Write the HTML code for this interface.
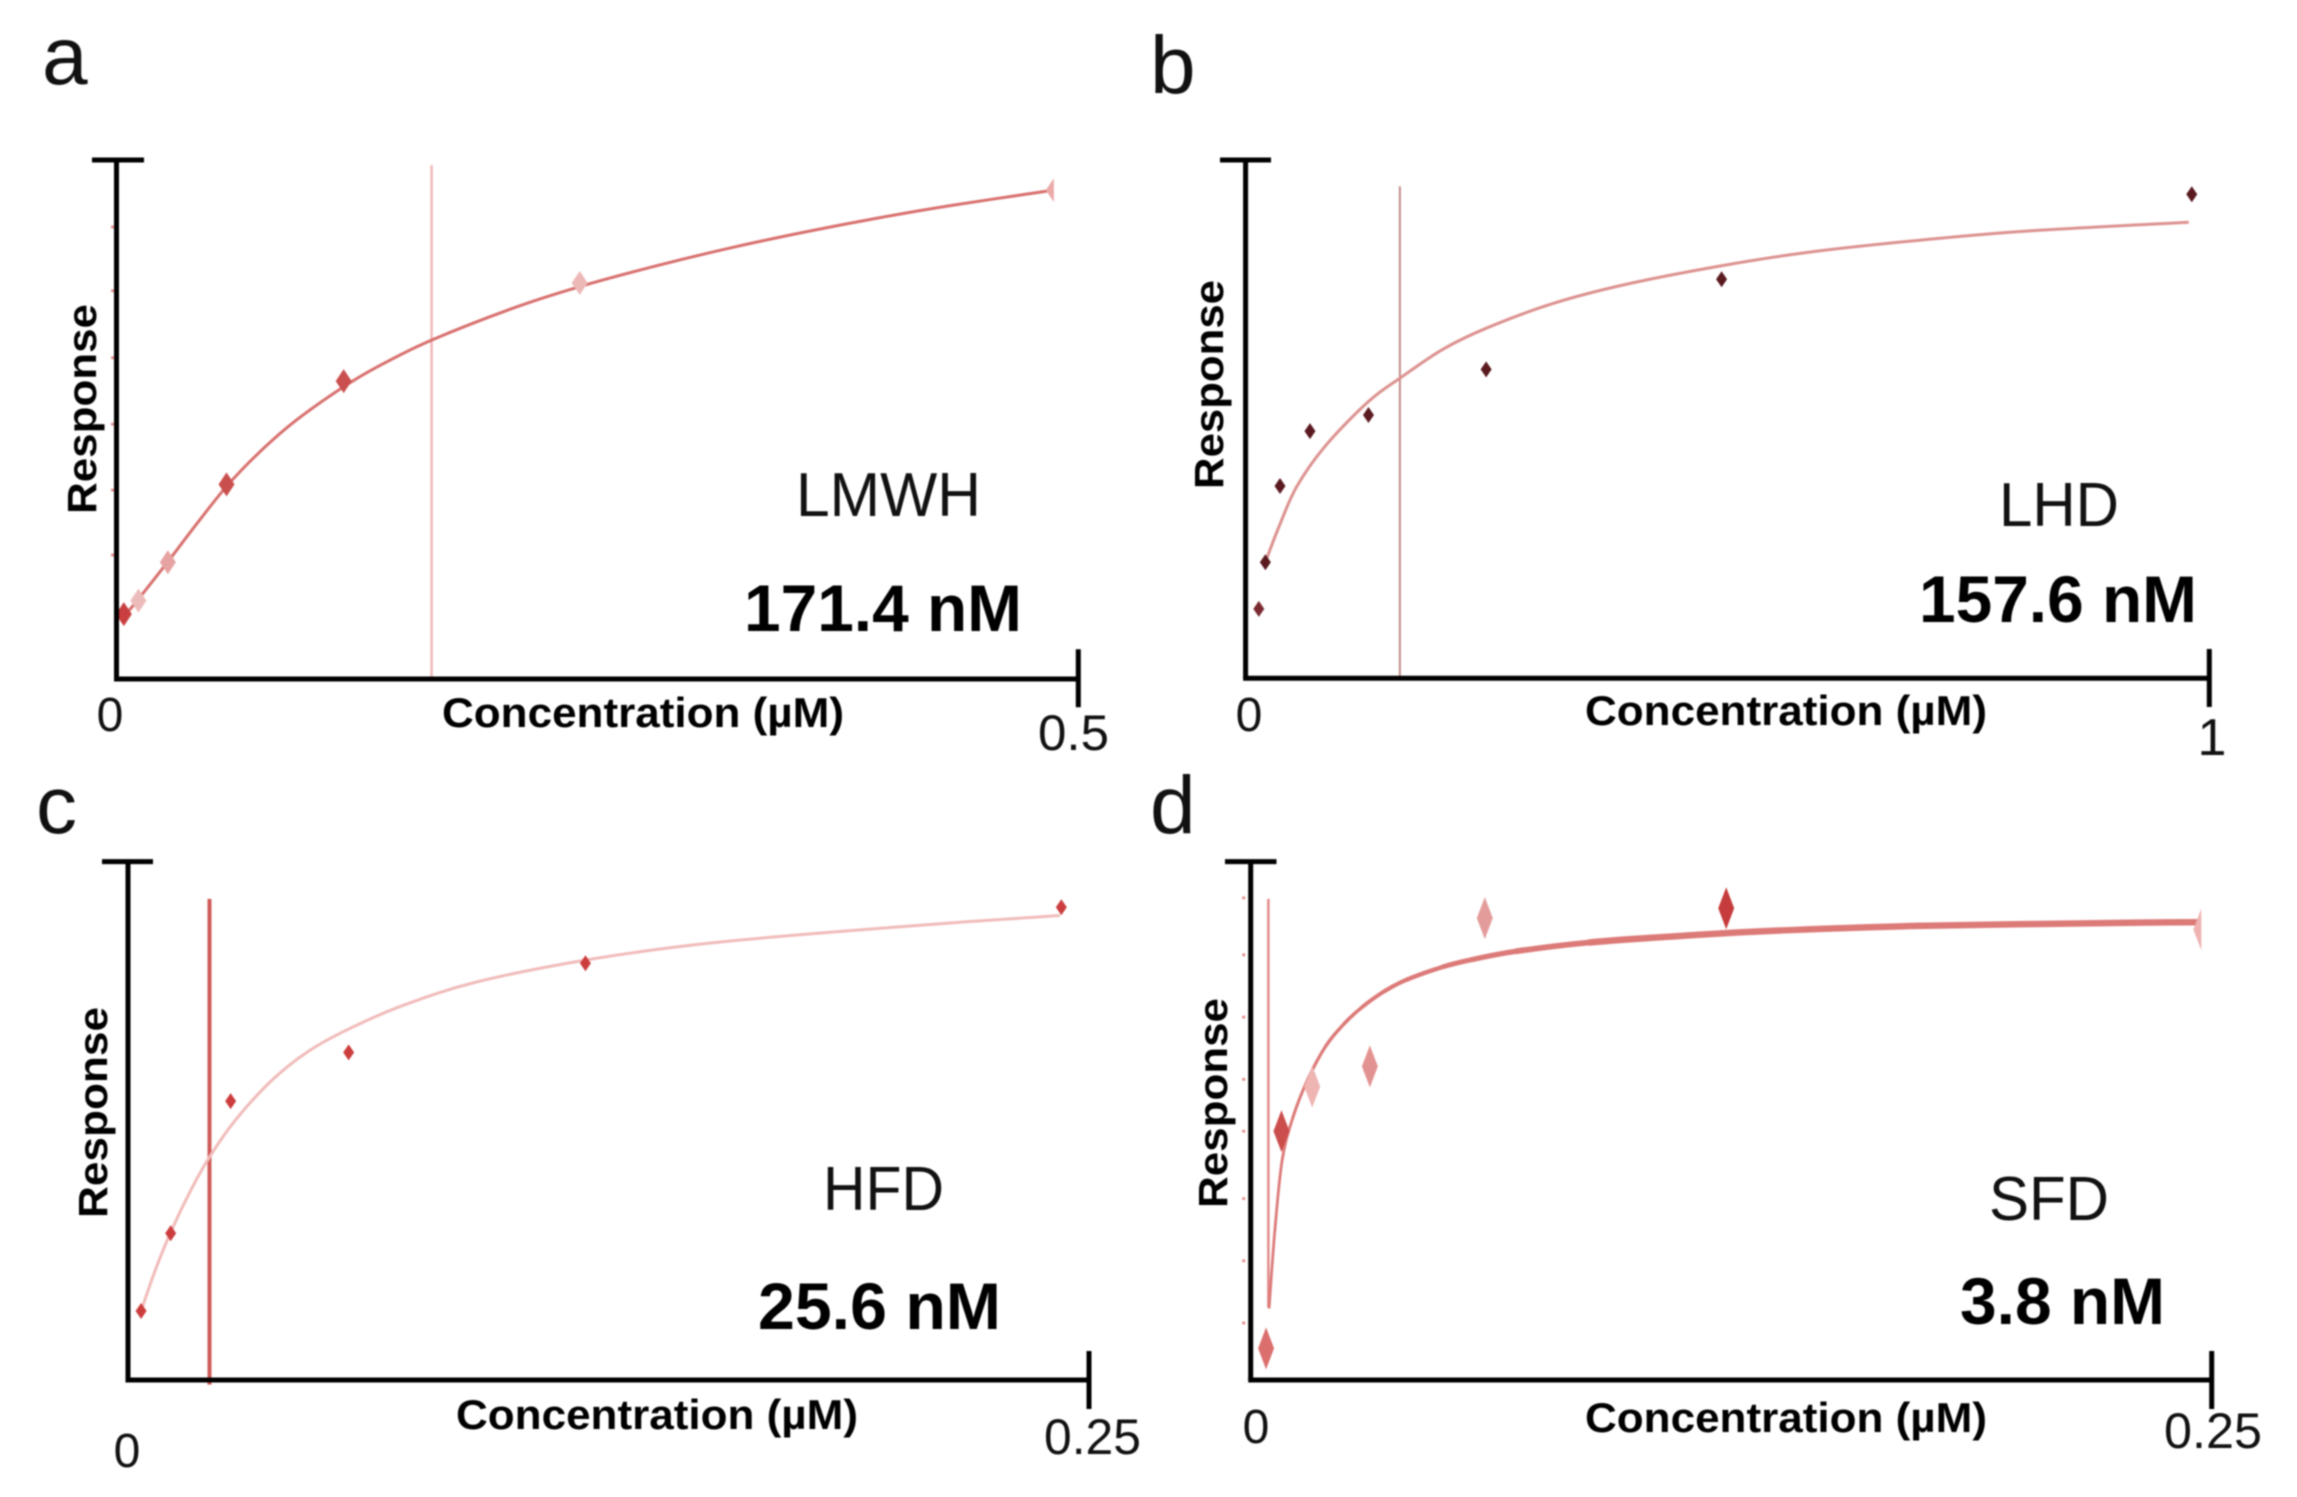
<!DOCTYPE html>
<html lang="en">
<head>
<meta charset="utf-8">
<title>Binding curves</title>
<style>
html,body{margin:0;padding:0;background:#fff;width:2297px;height:1497px;overflow:hidden}
svg{display:block;filter:blur(0.7px)}
text{font-family:"Liberation Sans",Arial,sans-serif;fill:#111}
.bold{font-weight:700;fill:#000}
</style>
</head>
<body>
<svg id="chart" xmlns="http://www.w3.org/2000/svg" width="2297" height="1497" viewBox="0 0 2297 1497">
  <rect width="2297" height="1497" fill="#fff"/>

  <text x="42" y="84" font-size="82">a</text>
  <text x="1150" y="93" font-size="82">b</text>
  <text x="36" y="833" font-size="82">c</text>
  <text x="1150" y="833" font-size="82">d</text>

  <text class="bold" x="442" y="727" font-size="42" textLength="402" lengthAdjust="spacingAndGlyphs">Concentration (µM)</text>
  <text class="bold" x="1585" y="725" font-size="42" textLength="402" lengthAdjust="spacingAndGlyphs">Concentration (µM)</text>
  <text class="bold" x="456" y="1429" font-size="42" textLength="402" lengthAdjust="spacingAndGlyphs">Concentration (µM)</text>
  <text class="bold" x="1585" y="1432" font-size="42" textLength="402" lengthAdjust="spacingAndGlyphs">Concentration (µM)</text>

  <text class="bold" transform="translate(96,514) rotate(-90)" font-size="41" textLength="210" lengthAdjust="spacingAndGlyphs">Response</text>
  <text class="bold" transform="translate(1223,489) rotate(-90)" font-size="41" textLength="209" lengthAdjust="spacingAndGlyphs">Response</text>
  <text class="bold" transform="translate(107,1218) rotate(-90)" font-size="41" textLength="211" lengthAdjust="spacingAndGlyphs">Response</text>
  <text class="bold" transform="translate(1227,1208) rotate(-90)" font-size="41" textLength="210" lengthAdjust="spacingAndGlyphs">Response</text>

  <text x="110" y="731" font-size="48" text-anchor="middle">0</text>
  <text x="1038" y="750" font-size="50" textLength="71" lengthAdjust="spacingAndGlyphs">0.5</text>
  <text x="1249" y="731" font-size="48" text-anchor="middle">0</text>
  <text x="2212" y="755" font-size="52" text-anchor="middle">1</text>
  <text x="127" y="1467" font-size="48" text-anchor="middle">0</text>
  <text x="1044" y="1454" font-size="50" textLength="97" lengthAdjust="spacingAndGlyphs">0.25</text>
  <text x="1256" y="1443" font-size="48" text-anchor="middle">0</text>
  <text x="2164" y="1448" font-size="50" textLength="98" lengthAdjust="spacingAndGlyphs">0.25</text>

  <text x="796" y="516" font-size="62" textLength="185" lengthAdjust="spacingAndGlyphs">LMWH</text>
  <text class="bold" x="744" y="631" font-size="66" textLength="278" lengthAdjust="spacingAndGlyphs">171.4 nM</text>
  <text x="1999" y="526" font-size="62" textLength="120" lengthAdjust="spacingAndGlyphs">LHD</text>
  <text class="bold" x="1919" y="622" font-size="66" textLength="278" lengthAdjust="spacingAndGlyphs">157.6 nM</text>
  <text x="823" y="1210" font-size="62" textLength="121" lengthAdjust="spacingAndGlyphs">HFD</text>
  <text class="bold" x="758" y="1329" font-size="66" textLength="243" lengthAdjust="spacingAndGlyphs">25.6 nM</text>
  <text x="1989" y="1220" font-size="62" textLength="120" lengthAdjust="spacingAndGlyphs">SFD</text>
  <text class="bold" x="1960" y="1324" font-size="66" textLength="205" lengthAdjust="spacingAndGlyphs">3.8 nM</text>

  <g id="plots"></g>
</svg>

<script>
// Panel a (LMWH)
const concA = [0.0038, 0.0114, 0.0267, 0.0572, 0.1181, 0.2408, 0.4873];
const respA = [12.5, 15.1, 22.5, 37.5, 57.4, 76.3, 94.2];
const fitXA = [0.0038, 0.0114, 0.0267, 0.0419, 0.0572, 0.0732, 0.0922, 0.1181, 0.1379, 0.1638, 0.2065, 0.2408, 0.2827, 0.3208, 0.3589, 0.397, 0.4351, 0.4854];
const fitYA = [12.0, 15.4, 22.6, 30.0, 37.1, 43.3, 49.5, 56.3, 60.6, 65.3, 71.5, 75.6, 79.8, 83.2, 86.2, 88.9, 91.3, 94.1];
const kdA = [0.1638];
const kdSpanA = [0, 99];
const minorA = [23.9, 36.4, 49.1, 61.9, 74.8, 87.1];

// Panel b (LHD)
const concB = [0.0137, 0.0205, 0.0357, 0.0668, 0.1275, 0.2496, 0.4939, 0.9818];
const respB = [13.4, 22.4, 37.1, 47.7, 50.8, 59.6, 77.0, 93.4];
const fitXB = [0.0205, 0.0341, 0.0531, 0.0835, 0.1275, 0.1601, 0.2049, 0.2504, 0.3187, 0.3945, 0.4939, 0.5842, 0.698, 0.8118, 0.9787];
const fitYB = [22.4, 29.0, 37.0, 45.0, 53.4, 57.9, 63.5, 67.6, 72.3, 76.0, 79.6, 82.2, 84.5, 86.3, 88.0];
const kdB = [0.1601];
const kdSpanB = [0, 94.9];
const minorB = [];

// Panel c (HFD)
const concC = [0.0034, 0.0111, 0.0267, 0.0574, 0.119, 0.2428];
const respC = [13.3, 28.3, 53.8, 63.2, 80.4, 91.2];
const fitXC = [0.0034, 0.0069, 0.0111, 0.0164, 0.0212, 0.0278, 0.0374, 0.0469, 0.0574, 0.0717, 0.0908, 0.119, 0.148, 0.1766, 0.2147, 0.2424];
const fitYC = [13.3, 20.8, 28.5, 36.7, 43.0, 50.0, 57.8, 63.4, 67.7, 72.3, 76.8, 81.0, 84.0, 86.0, 88.2, 89.6];
const kdC = [0.0212];
const kdSpanC = [-0.9, 92.8];
const minorC = [];

// Panel d (SFD)
const concD = [0.004, 0.008, 0.016, 0.031, 0.0609, 0.1237, 0.2473];
const respD = [6.1, 48.0, 56.6, 60.5, 89.1, 91.0, 86.9];
const fitXD = [0.0048, 0.0063, 0.0082, 0.011, 0.0148, 0.0196, 0.0244, 0.0291, 0.0348, 0.0405, 0.05, 0.0576, 0.0691, 0.0881, 0.1166, 0.1376, 0.1737, 0.2289, 0.246];
const fitYD = [14.0, 29.0, 42.5, 50.7, 57.9, 64.5, 68.8, 72.0, 75.0, 77.2, 79.7, 81.1, 82.7, 84.4, 85.9, 86.7, 87.6, 88.2, 88.3];
const kdD = [0.0046];
const kdSpanD = [14, 92.8];
const minorD = [11, 23, 35, 48, 58, 70, 82, 93];

const panels = [
  {id:'a', xMax:0.5, left:116.5, right:1078.3, bottom:679, top:160, capL:92, capR:144, tickTop:649.3, tickBot:707.3,
   conc:concA, resp:respA, fitX:fitXA, fitY:fitYA, kd:kdA, kdSpan:kdSpanA, minor:minorA,
   hw:8, hh:12, clipLast:true, fitColor:'#d8716f', fitWidth:3, kdColor:'#f0b8b6', kdWidth:2.5, minorOffset:0,
   colors:['#c93f3f','#ecbcba','#e6a3a1','#c94f4d','#c9504e','#ecb9b7','#eba9a7']},
  {id:'b', xMax:1, left:1245.6, right:2209.3, bottom:678.3, top:160, capL:1220, capR:1271, tickTop:649, tickBot:707,
   conc:concB, resp:respB, fitX:fitXB, fitY:fitYB, kd:kdB, kdSpan:kdSpanB, minor:minorB,
   hw:5.5, hh:8, clipLast:false, fitColor:'#dc9290', fitWidth:3, kdColor:'#c08a88', kdWidth:2, minorOffset:0,
   colors:['#7a2a30','#5a1a20','#5a1a20','#5a1a20','#5a1a20','#5a1a20','#5a1a20','#5a1a20']},
  {id:'c', xMax:0.25, left:128, right:1089, bottom:1380, top:861.6, capL:102, capR:153, tickTop:1351, tickBot:1409,
   conc:concC, resp:respC, fitX:fitXC, fitY:fitYC, kd:kdC, kdSpan:kdSpanC, minor:minorC,
   hw:5.5, hh:8, clipLast:false, fitColor:'#f0bcba', fitWidth:3, kdColor:'#cf5a59', kdWidth:4, minorOffset:0,
   colors:['#cc3e3e','#cc3e3e','#cc3e3e','#cc3e3e','#cc3e3e','#cc3e3e']},
  {id:'d', xMax:0.25, left:1250.7, right:2211.7, bottom:1380, top:861.6, capL:1225, capR:1276.5, tickTop:1351, tickBot:1409,
   conc:concD, resp:respD, fitX:fitXD, fitY:fitYD, kd:kdD, kdSpan:kdSpanD, minor:minorD,
   hw:8, hh:21, clipLast:true, fitColor:'#dc7a78', fitWidth:0, kdColor:'#e08a88', kdWidth:2.5, minorOffset:-9,
   colors:['#da6f6e','#cb4d4c','#eeb5b3','#e29291','#e49c9b','#c63c3c','#efb3b1']}
];

const NS = 'http://www.w3.org/2000/svg';
const root = document.getElementById('plots');

function make(tag, attrs, parent) {
  const el = document.createElementNS(NS, tag);
  for (const k in attrs) el.setAttribute(k, attrs[k]);
  parent.appendChild(el);
  return el;
}

// smooth cubic segment between sample i and i+1 (Catmull-Rom)
function segment(pts, i) {
  const p0 = pts[Math.max(0, i - 1)], p1 = pts[i], p2 = pts[i + 1], p3 = pts[Math.min(pts.length - 1, i + 2)];
  const c1x = p1[0] + (p2[0] - p0[0]) / 6, c1y = p1[1] + (p2[1] - p0[1]) / 6;
  const c2x = p2[0] - (p3[0] - p1[0]) / 6, c2y = p2[1] - (p3[1] - p1[1]) / 6;
  return 'C' + c1x + ',' + c1y + ' ' + c2x + ',' + c2y + ' ' + p2[0] + ',' + p2[1];
}

panels.forEach(function (p) {
  const xScale = function (v) { return p.left + v / p.xMax * (p.right - p.left); };
  const yScale = function (v) { return p.bottom - v / 100 * (p.bottom - p.top); };

  const g = make('g', {}, root);
  
  

  p.minor.forEach(function (v) {
    const dot = make('circle', {cx: p.left - 4 + p.minorOffset / 3, cy: yScale(v), r: 1.6, fill: '#e58f8e'}, g);
    
    
  });

  const kdLine = make('line', {
    x1: xScale(p.kd[0]), x2: xScale(p.kd[0]),
    y1: yScale(p.kdSpan[1]), y2: yScale(p.kdSpan[0]),
    stroke: p.kdColor, 'stroke-width': p.kdWidth
  }, g);
  
  

  const fitPts = p.fitX.map(function (x, i) { return [xScale(x), yScale(p.fitY[i])]; });
  if (p.fitWidth > 0) {
    let d = 'M' + fitPts[0][0] + ',' + fitPts[0][1];
    for (let i = 0; i < fitPts.length - 1; i++) d += segment(fitPts, i);
    const curve = make('path', {d: d, fill: 'none', stroke: p.fitColor, 'stroke-width': p.fitWidth, 'stroke-linejoin': 'round'}, g);
    
    
  } else {
    // curve thickens toward the right end
    for (let i = 0; i < fitPts.length - 1; i++) {
      const seg = make('path', {
        d: 'M' + fitPts[i][0] + ',' + fitPts[i][1] + segment(fitPts, i),
        fill: 'none', stroke: p.fitColor, 'stroke-linecap': 'round',
        'stroke-width': 2.5 + 4 * Math.min(1, p.fitX[i] / p.xMax * 3)
      }, g);
      
      
    }
  }

  p.conc.forEach(function (c, i) {
    const cx = xScale(c), cy = yScale(p.resp[i]);
    const isHalf = p.clipLast && i === p.conc.length - 1;
    const shape = isHalf
      ? [[cx - p.hw, cy], [cx, cy - p.hh], [cx, cy + p.hh]]
      : [[cx, cy - p.hh], [cx + p.hw, cy], [cx, cy + p.hh], [cx - p.hw, cy]];
    const pt = make('polygon', {points: shape.map(function (s) { return s.join(','); }).join(' '), fill: p.colors[i]}, g);
    
    
  });

  const yAxis = make('line', {x1: p.left, x2: p.left, y1: p.top, y2: p.bottom, stroke: '#000', 'stroke-width': 5}, g);
  
  
  const yCap = make('line', {x1: p.capL, x2: p.capR, y1: p.top, y2: p.top, stroke: '#000', 'stroke-width': 5}, g);
  
  
  const xAxis = make('line', {x1: p.left - 2.5, x2: p.right, y1: p.bottom, y2: p.bottom, stroke: '#000', 'stroke-width': 5}, g);
  
  
  const xCap = make('line', {x1: p.right, x2: p.right, y1: p.tickTop, y2: p.tickBot, stroke: '#000', 'stroke-width': 5}, g);
  
  
});
</script>
</body>
</html>
